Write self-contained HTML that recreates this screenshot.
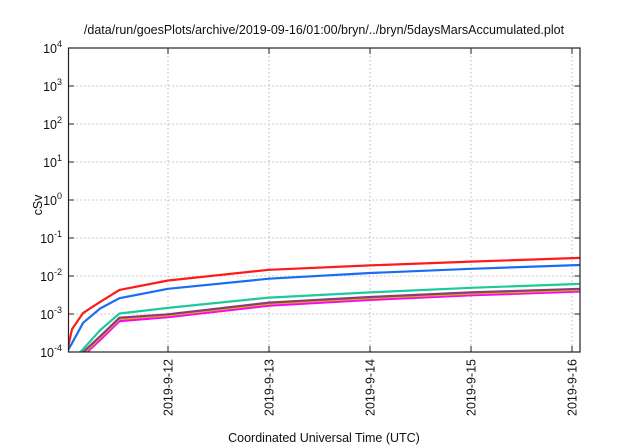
<!DOCTYPE html>
<html><head><meta charset="utf-8"><style>
body{margin:0;background:#fff;}
svg{display:block;font-family:"Liberation Sans",sans-serif;}
</style></head><body>
<svg id="chart" width="640" height="448" viewBox="0 0 640 448">
<text x="324" y="34" font-size="12.5" text-anchor="middle" fill="#111">/data/run/goesPlots/archive/2019-09-16/01:00/bryn/../bryn/5daysMarsAccumulated.plot</text>
<text transform="translate(42,205) rotate(-90)" font-size="12.5" text-anchor="middle" fill="#111">cSv</text>
<text x="324" y="442" font-size="12.5" text-anchor="middle" fill="#111">Coordinated Universal Time (UTC)</text>
<defs><clipPath id="clip"><rect x="68.5" y="48" width="511.5" height="304"/></clipPath></defs>
<g id="grid"></g>
<g id="series" clip-path="url(#clip)"></g>
<rect x="68.5" y="48" width="511.5" height="304" fill="none" stroke="#222" stroke-width="1.2"/>
<g id="ticks"></g>
</svg>
<script>
const times = [0,0.05,0.16,0.33,0.52,1,2,3,4,5.08];
const red = [1e-4,4e-4,1.07e-3,2.1e-3,4.3e-3,7.6e-3,1.46e-2,1.9e-2,2.4e-2,3.0e-2];
const blue = [1e-4,1.7e-4,5.9e-4,1.4e-3,2.6e-3,4.6e-3,8.5e-3,1.2e-2,1.55e-2,1.95e-2];
const green = [4e-5,6e-5,1.2e-4,3.8e-4,1.03e-3,1.45e-3,2.7e-3,3.7e-3,4.9e-3,6.2e-3];
const purple = [3e-5,5e-5,1e-4,2.6e-4,8e-4,9.8e-4,2.0e-3,2.8e-3,3.7e-3,4.6e-3];
const yellow = [3e-5,4.5e-5,9e-5,2.4e-4,7.4e-4,9.2e-4,1.85e-3,2.6e-3,3.45e-3,4.3e-3];
const magenta = [2.5e-5,4e-5,8e-5,2.1e-4,6.5e-4,8.3e-4,1.65e-3,2.35e-3,3.1e-3,3.9e-3];
const yExps = [-4,-3,-2,-1,0,1,2,3,4];
const xDays = [1,2,3,4,5];
const xLabels = ["2019-9-12","2019-9-13","2019-9-14","2019-9-15","2019-9-16"];

const NS="http://www.w3.org/2000/svg";
function xs(t){return 67+t*101;}
function ys(v){return 48+(4-Math.log10(v))*38;}
function mk(tag,attrs,parent){const e=document.createElementNS(NS,tag);for(const k in attrs)e.setAttribute(k,attrs[k]);parent.appendChild(e);return e;}
const grid=document.getElementById('grid'),ticks=document.getElementById('ticks'),ser=document.getElementById('series');
yExps.forEach(e=>{
  const y=ys(Math.pow(10,e));
  if(e>-4&&e<4){const g=mk('line',{x1:68.5,x2:580,y1:y,y2:y,stroke:'#bbb','stroke-dasharray':'1.5,2.5','stroke-width':1},grid);
  
  }
  mk('line',{x1:68.5,x2:74,y1:y,y2:y,stroke:'#222'},ticks);
  mk('line',{x1:574.5,x2:580,y1:y,y2:y,stroke:'#222'},ticks);
  const t=mk('text',{x:62,y:y+5,'font-size':12.5,'text-anchor':'end',fill:'#111'},ticks);
  
  
  t.innerHTML='10<tspan dy="-6" font-size="9">'+e+'</tspan>';
});
xDays.forEach((d,i)=>{
  const x=xs(d);
  const g=mk('line',{x1:x,x2:x,y1:48,y2:352,stroke:'#bbb','stroke-dasharray':'1.5,2.5','stroke-width':1},grid);
  
  
  mk('line',{x1:x,x2:x,y1:346,y2:352,stroke:'#222'},ticks);
  mk('line',{x1:x,x2:x,y1:48,y2:54,stroke:'#222'},ticks);
  const t=mk('text',{transform:'translate('+(x+4.5)+',359) rotate(-90)','font-size':12.5,'text-anchor':'end',fill:'#111'},ticks);
  
  
  t.textContent=xLabels[i];
});
const seriesList=[[magenta,'#ff00ff','magenta'],[yellow,'#d8b000','yellow'],[purple,'#8b3a7e','purple'],[green,'#1ec99a','green'],[blue,'#1a6cf5','blue'],[red,'#ff1a1a','red']];
seriesList.forEach(s=>{
  const d=times.map((t,i)=>(i?'L':'M')+xs(t).toFixed(1)+','+ys(s[0][i]).toFixed(1)).join(' ');
  const p=mk('path',{d:d,fill:'none',stroke:s[1],'stroke-width':2.2,'stroke-linejoin':'round'},ser);
  
  
});
</script>
</body></html>
